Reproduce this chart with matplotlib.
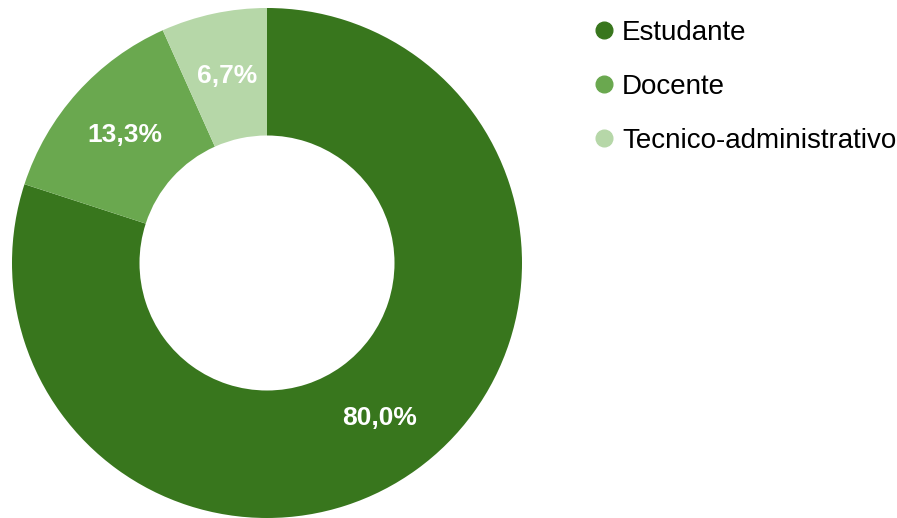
import matplotlib
matplotlib.use("Agg")
import matplotlib.pyplot as plt
from matplotlib.lines import Line2D
import numpy as np

plt.rcParams['font.family'] = ['Liberation Sans Narrow', 'Liberation Sans', 'DejaVu Sans']

# dados
categorias = ['Estudante', 'Docente', 'Tecnico-administrativo']
valores = [80.0, 13.3, 6.7]
rotulos = ['80,0%', '13,3%', '6,7%']
cores = ['#38761d', '#6aa84f', '#b6d7a8']

fig = plt.figure(figsize=(8.97, 5.18), dpi=100)
ax = fig.add_axes([12 / 897, 0 / 518, 510 / 897, 510 / 518])

wedges, _ = ax.pie(valores, colors=cores, startangle=90, counterclock=False,
                   radius=1.0, wedgeprops=dict(width=0.5, linewidth=0))

# rotulos de percentagem
total = sum(valores)
inicio = 90.0
for v, txt in zip(valores, rotulos):
    meio = inicio - v / total * 360 / 2
    inicio -= v / total * 360
    r = 0.75
    ax.text(r * np.cos(np.radians(meio)), r * np.sin(np.radians(meio)), txt,
            ha='center', va='center', color='white', fontsize=19, fontweight='bold')

ax.set_xlim(-1, 1)
ax.set_ylim(-1, 1)
ax.set_aspect('equal')
ax.axis('off')

# legenda
handles = [Line2D([0], [0], marker='o', linestyle='', markersize=12,
                  markerfacecolor=c, markeredgecolor=c) for c in cores]
fig.legend(handles, categorias, loc='upper left', bbox_to_anchor=(579 / 897, 1 - 9 / 518),
           frameon=False, fontsize=20, handletextpad=0.15, labelspacing=1.0,
           handlelength=1.0, borderaxespad=0)

fig.savefig('out.png', dpi=100)
